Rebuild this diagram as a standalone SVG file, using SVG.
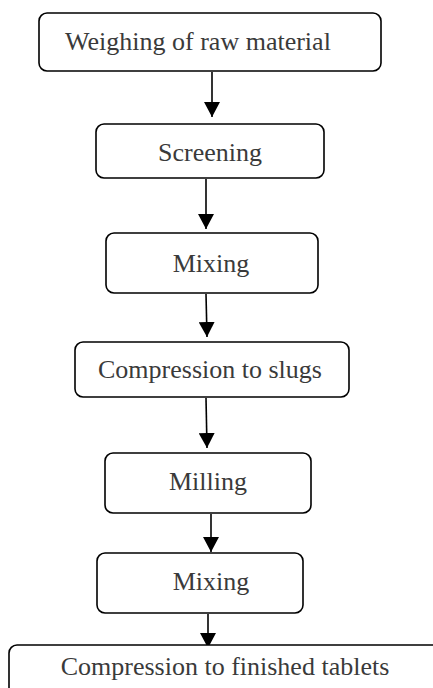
<svg xmlns="http://www.w3.org/2000/svg" width="433" height="688" viewBox="0 0 433 688">
  <style>
    .box { fill: #ffffff; stroke: #000000; stroke-width: 1.6; }
    .lbl { font-size: 26px; fill: #3a3a3a; text-anchor: middle; }
    .edge { stroke: #000000; stroke-width: 1.6; fill: none; marker-end: url(#ah); }
  </style>
  <defs>
    <marker id="ah" viewBox="0 0 15 16" markerWidth="15" markerHeight="16" refX="15" refY="8" orient="auto" markerUnits="userSpaceOnUse">
      <path d="M0,0 L15,8 L0,16 z" fill="#000000"/>
    </marker>
  </defs>
  <rect width="433" height="688" fill="#ffffff"/>

  <g id="edges">
    <path class="edge" d="M212,72 L212,117"/>
    <path class="edge" d="M206,179 L206,229"/>
    <path class="edge" d="M206,294 L207,337"/>
    <path class="edge" d="M206,398 L207,448"/>
    <path class="edge" d="M211,514 L211,552"/>
    <path class="edge" d="M208,614 L208,648"/>
  </g>

  <g font-family="'Liberation Serif', 'Times New Roman', 'DejaVu Serif', serif">
    <g id="weighing">
      <rect class="box" x="39" y="13" width="342" height="58" rx="8"/>
      <text class="lbl" x="198" y="50">Weighing of raw material</text>
    </g>
    <g id="screening">
      <rect class="box" x="96" y="124" width="228" height="54" rx="8"/>
      <text class="lbl" x="210" y="161">Screening</text>
    </g>
    <g id="mixing1">
      <rect class="box" x="106" y="233" width="212" height="60" rx="8"/>
      <text class="lbl" x="211" y="272">Mixing</text>
    </g>
    <g id="slugs">
      <rect class="box" x="75" y="342" width="274" height="55" rx="8"/>
      <text class="lbl" x="210" y="378">Compression to slugs</text>
    </g>
    <g id="milling">
      <rect class="box" x="105" y="453" width="206" height="60" rx="8"/>
      <text class="lbl" x="208" y="490">Milling</text>
    </g>
    <g id="mixing2">
      <rect class="box" x="97" y="553" width="206" height="60" rx="8"/>
      <text class="lbl" x="211" y="590">Mixing</text>
    </g>
    <g id="tablets">
      <rect class="box" x="9" y="645" width="460" height="60" rx="8"/>
      <text class="lbl" x="225" y="675">Compression to finished tablets</text>
    </g>
  </g>
</svg>
